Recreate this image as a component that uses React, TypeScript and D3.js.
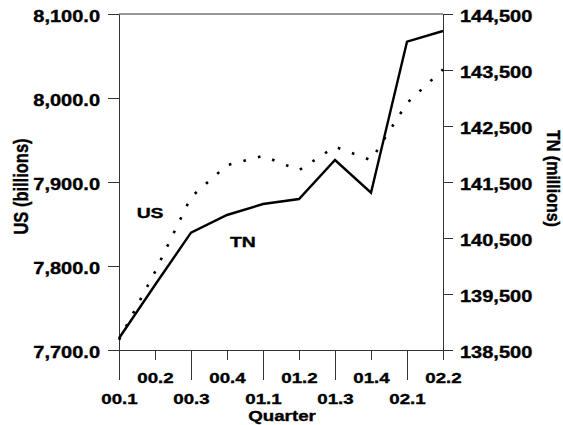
import * as d3 from "d3";
import { useEffect, useRef } from "react";

// quarters on the x axis
const quarters = ["00.1", "00.2", "00.3", "00.4", "01.1", "01.2", "01.3", "01.4", "02.1", "02.2"];
// US (billions), left axis, dotted line
const usValues = [7712, 7793, 7882, 7920, 7931, 7914, 7942, 7926, 7994, 8034];
// TN (millions), right axis, solid line
const tnValues = [138709, 139661, 140595, 140911, 141107, 141196, 141893, 141309, 144005, 144196];

const leftTicks = [7700, 7800, 7900, 8000, 8100];
const rightTicks = [138500, 139500, 140500, 141500, 142500, 143500, 144500];

// where the series labels sit (index, value)
const usLabel = { text: "US", at: 0.49, value: 7857 };
const tnLabel = { text: "TN", at: 3.08, value: 140334 };

const W = 563;
const H = 425;
const FONT = "'Liberation Sans', Arial, sans-serif";
const SX = 1.25; // the original text is stretched sideways

const draw = (node: SVGSVGElement) => {
  const svg = d3.select(node);
  svg.selectAll("*").remove();

  const x1 = 119, x2 = 443, top = 14, bottom = 350;
  const x = d3.scaleLinear().domain([0, quarters.length - 1]).range([x1, x2]);
  const yL = d3.scaleLinear().domain([7700, 8100]).range([bottom, top]);
  const yR = d3.scaleLinear().domain([138500, 144500]).range([bottom, top]);

  const stroke = "#333";

  // top frame line
  svg.append("line")
    .attr("x1", x1).attr("x2", x2)
    .attr("y1", yL(8100)).attr("y2", yL(8100))
    .attr("stroke", stroke);

  // left axis
  const gl = svg.append("g").attr("transform", `translate(${x1},0)`)
    .call(d3.axisLeft(yL).tickValues(leftTicks).tickSize(11).tickSizeOuter(0).tickFormat(d3.format(",.1f")));
  gl.selectAll("text")
    .attr("x", 0)
    .attr("dy", "0.47em")
    .attr("transform", `translate(-19,0) scale(${SX},1)`)
    .attr("font-size", 16);

  // right axis
  const gr = svg.append("g").attr("transform", `translate(${x2},0)`)
    .call(d3.axisRight(yR).tickValues(rightTicks).tickSize(10).tickSizeOuter(0).tickFormat(d3.format(",")));
  gr.selectAll("text")
    .attr("x", 0)
    .attr("dy", "0.47em")
    .attr("transform", `translate(17,0) scale(${SX},1)`)
    .attr("font-size", 16);

  // bottom axis, labels on two rows
  const gb = svg.append("g").attr("transform", `translate(0,${bottom})`)
    .call(d3.axisBottom(x).tickValues(d3.range(quarters.length)).tickSizeOuter(0)
      .tickFormat((d) => quarters[d as number]));
  gb.selectAll(".tick line").attr("y2", (d: any) => (d % 2 === 0 ? 30 : 10));
  gb.selectAll("text")
    .attr("y", 0)
    .attr("dy", null)
    .attr("transform", (d: any) => `translate(0,${d % 2 === 0 ? 53.5 : 32.5}) scale(${SX},1)`)
    .attr("font-size", 15);

  svg.selectAll(".domain, .tick line").attr("stroke", stroke);
  svg.selectAll(".tick text")
    .attr("fill", "#000")
    .attr("font-family", FONT)
    .attr("font-weight", "bold")
    .attr("stroke", "#000")
    .attr("stroke-width", 0.35);

  // series
  const usLine = d3.line<number>().x((d, i) => x(i)).y((d) => yL(d));
  const tnLine = d3.line<number>().x((d, i) => x(i)).y((d) => yR(d));

  svg.append("path")
    .attr("d", usLine(usValues))
    .attr("fill", "none")
    .attr("stroke", "#000")
    .attr("stroke-width", 2.6)
    .attr("stroke-dasharray", "2.6 12.4");

  svg.append("path")
    .attr("d", tnLine(tnValues))
    .attr("fill", "none")
    .attr("stroke", "#000")
    .attr("stroke-width", 2.4)
    .attr("stroke-linejoin", "miter");

  const txt = (sel: any) => sel
    .attr("font-family", FONT)
    .attr("font-weight", "bold")
    .attr("fill", "#000")
    .attr("stroke", "#000")
    .attr("stroke-width", 0.35);

  // series labels
  svg.append("text").call(txt)
    .attr("font-size", 15.5)
    .attr("transform", `translate(${x(usLabel.at)},${yL(usLabel.value)}) scale(${SX},1)`)
    .text(usLabel.text);
  svg.append("text").call(txt)
    .attr("font-size", 15.5)
    .attr("transform", `translate(${x(tnLabel.at)},${yR(tnLabel.value)}) scale(${SX},1)`)
    .text(tnLabel.text);

  // axis titles
  svg.append("text").call(txt)
    .attr("font-size", 15)
    .attr("text-anchor", "middle")
    .attr("transform", `translate(${(x1 + x2) / 2 + 1},421) scale(${SX},1)`)
    .text("Quarter");
  svg.append("text").call(txt)
    .attr("font-size", 16.5)
    .attr("text-anchor", "middle")
    .attr("transform", `translate(28.3,${(top + bottom) / 2 + 4.5}) scale(${SX},1) rotate(-90)`)
    .text("US (billions)");
  svg.append("text").call(txt)
    .attr("font-size", 16)
    .attr("text-anchor", "middle")
    .attr("transform", `translate(546.5,${(top + bottom) / 2 - 3.5}) scale(1.2,1) rotate(90)`)
    .text("TN (millions)");
};

export default function App() {
  const ref = useRef<SVGSVGElement>(null);

  useEffect(() => {
    if (ref.current) draw(ref.current);
  }, []);

  return (
    <div style={{ position: "absolute", left: 0, top: 0, width: W, height: H, background: "#fff" }}>
      <svg ref={ref} width={W} height={H} style={{ display: "block" }} />
    </div>
  );
}
